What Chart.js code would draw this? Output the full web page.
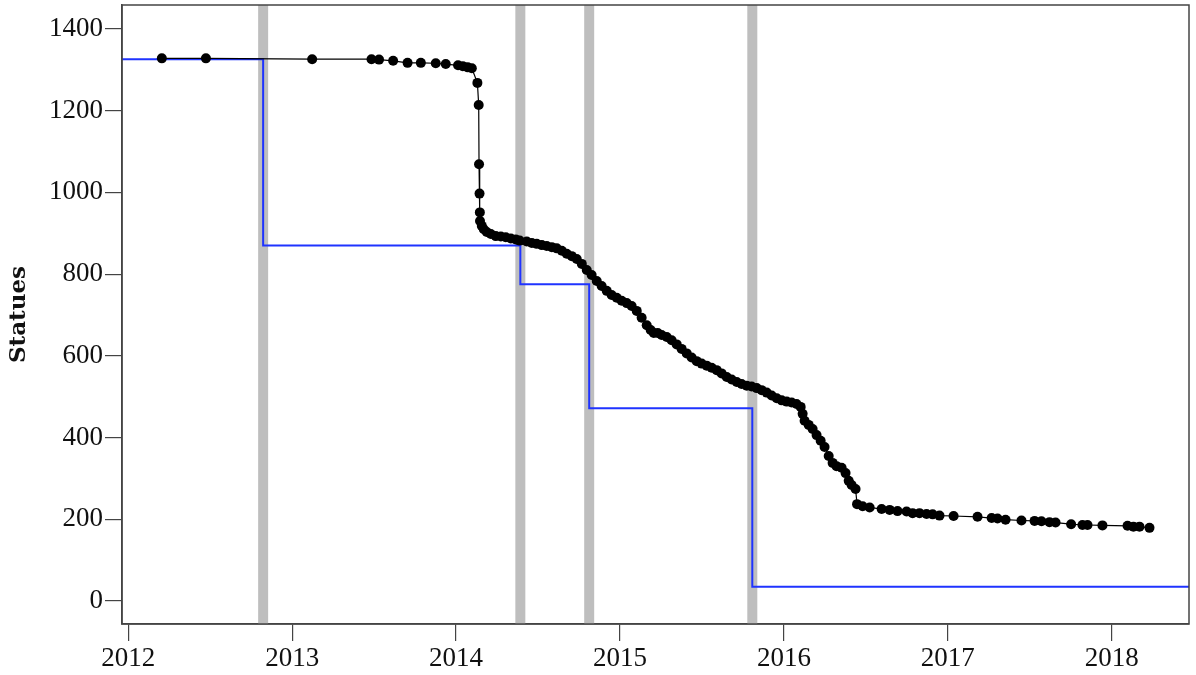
<!DOCTYPE html>
<html>
<head>
<meta charset="utf-8">
<script src="https://cdn.jsdelivr.net/npm/chart.js@4/dist/chart.umd.min.js"></script>
<style>
  html, body { margin: 0; padding: 0; background: #ffffff; }
  #wrap { width: 1196px; height: 675px; }
</style>
</head>
<body>
<div id="wrap"><canvas id="chart" width="1196" height="675"></canvas></div>
<script>
// Statue count over time (decimal years)
const statueYears = [
  2012.205, 2012.474, 2013.122, 2013.484, 2013.530, 2013.616, 2013.704, 2013.785,
  2013.876, 2013.937, 2014.012, 2014.041, 2014.071, 2014.096, 2014.130, 2014.138,
  2014.140, 2014.143, 2014.145, 2014.146, 2014.157, 2014.169, 2014.187, 2014.212,
  2014.242, 2014.273, 2014.303, 2014.334, 2014.364, 2014.388, 2014.431, 2014.462,
  2014.492, 2014.523, 2014.553, 2014.584, 2014.614, 2014.645, 2014.675, 2014.706,
  2014.736, 2014.767, 2014.797, 2014.827, 2014.858, 2014.888, 2014.919, 2014.949,
  2014.980, 2015.010, 2015.041, 2015.071, 2015.102, 2015.132, 2015.163, 2015.187,
  2015.206, 2015.230, 2015.254, 2015.285, 2015.315, 2015.346, 2015.376, 2015.407,
  2015.437, 2015.468, 2015.498, 2015.529, 2015.559, 2015.590, 2015.620, 2015.651,
  2015.681, 2015.712, 2015.742, 2015.773, 2015.803, 2015.834, 2015.864, 2015.895,
  2015.925, 2015.956, 2015.986, 2016.017, 2016.047, 2016.077, 2016.102, 2016.114,
  2016.126, 2016.151, 2016.175, 2016.199, 2016.224, 2016.248, 2016.273, 2016.297,
  2016.321, 2016.352, 2016.376, 2016.395, 2016.413, 2016.437, 2016.446, 2016.480,
  2016.523, 2016.596, 2016.645, 2016.693, 2016.748, 2016.785, 2016.827, 2016.870,
  2016.907, 2016.949, 2017.035, 2017.181, 2017.267, 2017.303, 2017.352, 2017.449,
  2017.529, 2017.571, 2017.620, 2017.657, 2017.752, 2017.821, 2017.852, 2017.943,
  2018.096, 2018.132, 2018.169, 2018.230
];
const statueCounts = [
  1328, 1328, 1326, 1326, 1325, 1322, 1317, 1317,
  1316, 1314, 1311, 1309, 1306, 1304, 1268, 1214,
  1069, 997, 951, 930, 918, 910, 903, 898,
  893, 892, 890, 887, 885, 882, 880, 876,
  874, 871, 869, 866, 863, 857, 850, 844,
  837, 825, 810, 798, 783, 771, 759, 749,
  742, 735, 729, 722, 710, 693, 675, 663,
  656, 656, 651, 646, 638, 628, 617, 606,
  596, 587, 581, 576, 571, 565, 557, 548,
  542, 536, 531, 527, 525, 521, 516, 510,
  503, 496, 491, 488, 486, 482, 475, 458,
  441, 431, 421, 406, 392, 377, 355, 338,
  330, 326, 313, 294, 284, 274, 237, 232,
  229, 225, 223, 220, 219, 215, 215, 213,
  212, 209, 208, 206, 203, 202, 199, 197,
  196, 195, 193, 192, 188, 186, 186, 185,
  184, 182, 182, 179
];

// Stepped target levels: each level holds from its start year to the next one
const stepYears  = [2011.962, 2012.823, 2014.392, 2014.812, 2015.807, 2018.471];
const stepLevels = [1326, 870, 775, 472, 35, 35];

// Vertical marker bands
const bandYears = [2012.823, 2014.392, 2014.812, 2015.807];

// Axis ticks
const yearTicks  = [2012, 2013, 2014, 2015, 2016, 2017, 2018];
const countTicks = [0, 200, 400, 600, 800, 1000, 1200, 1400];

const AXIS_COLOR = '#444444';
const tickFont = { family: "'Liberation Serif', 'DejaVu Serif', serif", size: 27 };

const statuePoints = statueYears.map((x, i) => ({ x: x, y: statueCounts[i] }));
const stepPoints = stepYears.map((x, i) => ({ x: x, y: stepLevels[i] }));

// Gray bands behind the data, and a box around the plotting area
const framePlugin = {
  id: 'frame',
  beforeDatasetsDraw(chart) {
    const { ctx, chartArea, scales } = chart;
    ctx.save();
    ctx.fillStyle = '#bebebe';
    bandYears.forEach(yr => {
      const px = scales.x.getPixelForValue(yr);
      ctx.fillRect(px - 5, chartArea.top, 10, chartArea.bottom - chartArea.top);
    });
    ctx.restore();
  },
  afterDraw(chart) {
    const { ctx, chartArea } = chart;
    ctx.save();
    ctx.strokeStyle = AXIS_COLOR;
    ctx.lineWidth = 1.5;
    ctx.strokeRect(chartArea.left, chartArea.top, chartArea.right - chartArea.left, chartArea.bottom - chartArea.top);
    ctx.restore();
  }
};

new Chart(document.getElementById('chart'), {
  type: 'scatter',
  data: {
    datasets: [
      {
        label: 'Statues',
        data: statuePoints,
        showLine: true,
        borderColor: '#000000',
        borderWidth: 1.2,
        pointRadius: 5,
        pointBackgroundColor: '#000000',
        pointBorderWidth: 0,
        pointHoverRadius: 5
      },
      {
        label: 'Target',
        data: stepPoints,
        showLine: true,
        stepped: 'before',
        borderColor: '#1f33ff',
        borderWidth: 2,
        pointRadius: 0,
        pointHoverRadius: 0
      }
    ]
  },
  options: {
    responsive: false,
    animation: false,
    events: [],
    layout: { padding: { top: 5, right: 7, left: 0, bottom: 0 } },
    plugins: {
      legend: { display: false },
      tooltip: { enabled: false }
    },
    scales: {
      x: {
        type: 'linear',
        min: 2011.962,
        max: 2018.471,
        afterBuildTicks(scale) { scale.ticks = yearTicks.map(v => ({ value: v })); },
        afterFit(scale) { scale.height = 51; scale.paddingRight = 0; },
        border: { display: true, color: AXIS_COLOR, width: 1.5 },
        grid: { drawOnChartArea: false, drawTicks: true, tickLength: 17, color: AXIS_COLOR, lineWidth: 1.2 },
        ticks: {
          color: '#111111',
          font: tickFont,
          padding: 2,
          maxRotation: 0,
          autoSkip: false,
          callback: v => String(v)
        }
      },
      y: {
        type: 'linear',
        min: -56.3,
        max: 1458.6,
        afterBuildTicks(scale) { scale.ticks = countTicks.map(v => ({ value: v })); },
        afterFit(scale) { scale.width = 122; scale.paddingTop = 0; scale.paddingBottom = 0; },
        border: { display: true, color: AXIS_COLOR, width: 1.5 },
        grid: { drawOnChartArea: false, drawTicks: true, tickLength: 17, color: AXIS_COLOR, lineWidth: 1.2 },
        ticks: {
          color: '#111111',
          font: tickFont,
          padding: 2,
          autoSkip: false,
          callback: v => String(v)
        },
        title: {
          display: true,
          text: 'Statues',
          color: '#111111',
          font: { family: "'DejaVu Serif', serif", size: 23, weight: 'bold' },
          padding: { top: 5, bottom: 0 }
        }
      }
    }
  },
  plugins: [framePlugin]
});
</script>
</body>
</html>
